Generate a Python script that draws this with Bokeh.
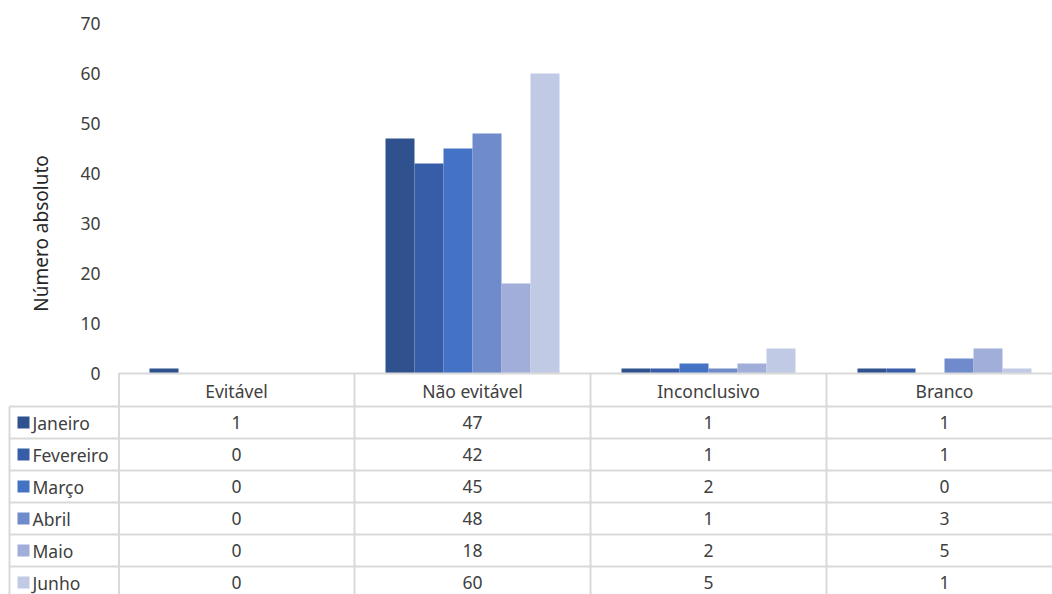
import math
from bokeh.plotting import figure
from bokeh.models import Range1d, FixedTicker, ColumnDataSource, LinearAxis
from bokeh.embed import file_html
from bokeh.resources import INLINE
from bokeh.core.properties import value

# ---------------- data ----------------
categories = ["Evitável", "Não evitável", "Inconclusivo", "Branco"]
months = ["Janeiro", "Fevereiro", "Março", "Abril", "Maio", "Junho"]
janeiro = [1, 47, 1, 1]
fevereiro = [0, 42, 1, 1]
marco = [0, 45, 2, 0]
abril = [0, 48, 1, 3]
maio = [0, 18, 2, 5]
junho = [0, 60, 5, 1]
y_ticks = [0, 10, 20, 30, 40, 50, 60, 70]
y_label = "Número absoluto"

series = [janeiro, fevereiro, marco, abril, maio, junho]
colors = ["#2F528F", "#375DA8", "#4472C4", "#6F8BCB", "#A0AED9", "#C1CAE5"]

FONT = "Noto Sans"
FS = "17.5px"
TXT = "#404040"
GRID = "#D9D9D9"

# ---------------- layout geometry (pixels) ----------------
W, H = 1052, 594
X0 = 118.0      # pixel x of category axis start
Y0 = 373.0      # pixel y of value zero
CW = 236.0      # pixels per category
PPU = 5.0       # pixels per value unit
HEAD = 33.0     # header row height
RH = 32.0       # table row height


def gx(px):
    return (px - X0) / CW


def gy(py):
    return (Y0 - py) / PPU


bw = 29.0 / CW
xmax = gx(W)

p = figure(width=W, height=H,
           x_range=Range1d(gx(0), gx(W)),
           y_range=Range1d(gy(H), gy(0)),
           x_axis_type=None, y_axis_type=None,
           output_backend="svg", toolbar_location=None,
           min_border=0, min_border_left=0, min_border_right=0,
           min_border_top=0, min_border_bottom=0)
p.outline_line_color = None
p.xgrid.visible = False
p.ygrid.visible = False

# bars
for j, (vals, col) in enumerate(zip(series, colors)):
    xs = [i + 0.5 + (j - 2.5) * bw for i in range(len(categories))]
    src = ColumnDataSource(dict(x=xs, top=vals))
    p.vbar(x="x", top="top", bottom=0, width=bw, source=src,
           fill_color=col, line_color=None)

# y axis placed at the category start
ya = LinearAxis(fixed_location=0)
ya.ticker = FixedTicker(ticks=y_ticks)
ya.axis_line_color = None
ya.major_tick_line_color = None
ya.minor_tick_line_color = None
ya.major_tick_in = 0
ya.major_tick_out = 0
ya.minor_tick_in = 0
ya.minor_tick_out = 0
ya.major_label_standoff = 18
ya.major_label_text_font = FONT
ya.major_label_text_font_size = FS
ya.major_label_text_color = TXT
p.add_layout(ya, "left")

p.text(x=[gx(40)], y=[gy(233)], text=[y_label], angle=math.pi / 2,
       text_align="center", text_baseline="middle",
       text_font=value(FONT), text_font_size="19px", text_color="#262626")

# ---------------- data table ----------------
n_rows = len(months)
row_top = [Y0 + HEAD + r * RH for r in range(n_rows + 1)]
left_border = gx(9)

# horizontal lines
hx0 = [0.0] + [left_border] * (n_rows + 1)
hy = [0.0] + [gy(v) for v in row_top]
p.segment(x0=hx0, x1=[xmax] * len(hx0), y0=hy, y1=hy,
          line_color=GRID, line_width=2)

# vertical lines
vx = [0.0 + 0.5 / CW] + [float(i) for i in range(1, len(categories) + 1)]
p.segment(x0=vx, x1=vx, y0=[0.0] * len(vx), y1=[gy(H)] * len(vx),
          line_color=GRID, line_width=2)
p.segment(x0=[left_border], x1=[left_border], y0=[gy(row_top[0])], y1=[gy(H)],
          line_color=GRID, line_width=2)

# header labels
p.text(x=[i + 0.5 for i in range(len(categories))],
       y=[gy(Y0 + 17)] * len(categories), text=categories,
       text_align="center", text_baseline="middle",
       text_font=value(FONT), text_font_size=FS, text_color=TXT)

# cell values
row_mid = [gy(Y0 + HEAD + (j + 0.5) * RH) for j in range(n_rows)]
tx, ty, tt = [], [], []
for j, vals in enumerate(series):
    for i, v in enumerate(vals):
        tx.append(i + 0.5)
        ty.append(row_mid[j])
        tt.append(str(v))
p.text(x="x", y="y", text="t", source=ColumnDataSource(dict(x=tx, y=ty, t=tt)),
       text_align="center", text_baseline="middle",
       text_font=value(FONT), text_font_size=FS, text_color=TXT)

# legend keys + month names
p.scatter(x=[gx(23)] * n_rows, y=row_mid, marker="square",
          size=12, fill_color=colors, line_color=None)
p.text(x=[gx(32)] * n_rows, y=row_mid, text=months,
       text_align="left", text_baseline="middle",
       text_font=value(FONT), text_font_size=FS, text_color=TXT)

open("out.html", "w").write(file_html(p, INLINE))
